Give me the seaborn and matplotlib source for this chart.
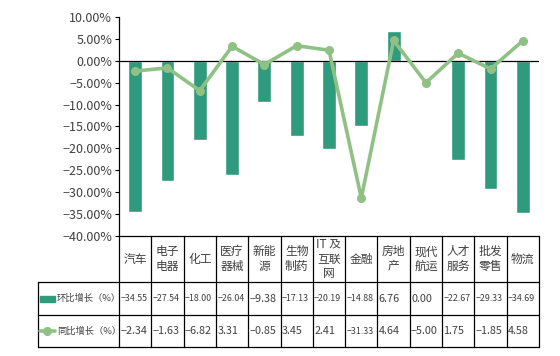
import matplotlib
matplotlib.use("Agg")
import matplotlib.pyplot as plt
import seaborn as sns
import numpy as np
import pandas as pd
from matplotlib.ticker import FuncFormatter
from matplotlib.patches import Rectangle
from matplotlib.lines import Line2D

# data
categories = ["汽车", "电子\n电器", "化工", "医疗\n器械", "新能\n源", "生物\n制药", "IT 及\n互联\n网",
              "金融", "房地\n产", "现代\n航运", "人才\n服务", "批发\n零售", "物流"]
mom_growth = [-34.55, -27.54, -18.00, -26.04, -9.38, -17.13, -20.19, -14.88, 6.76, 0.00, -22.67, -29.33, -34.69]
yoy_growth = [-2.34, -1.63, -6.82, 3.31, -0.85, 3.45, 2.41, -31.33, 4.64, -5.00, 1.75, -1.85, 4.58]
row_labels = ["环比增长（%）", "同比增长（%）"]
y_ticks = [10, 5, 0, -5, -10, -15, -20, -25, -30, -35, -40]

bar_color = "#2f9a7c"
line_color = "#8fc184"
text_color = "#404040"

sns.set_theme(style="white")
plt.rcParams['font.family'] = ['Noto Sans CJK SC', 'DejaVu Sans']
plt.rcParams['axes.unicode_minus'] = True

df = pd.DataFrame({"cat": categories, "mom": mom_growth, "yoy": yoy_growth})

W, H = 560, 356
fig = plt.figure(figsize=(W / 100, H / 100), dpi=100)
# main plot area (pixel layout)
x0, x1 = 119, 539
ytop, ybot = 17, 236
ax = fig.add_axes([x0 / W, 1 - ybot / H, (x1 - x0) / W, (ybot - ytop) / H])

sns.barplot(data=df, x="cat", y="mom", color=bar_color, width=0.43, ax=ax, saturation=1)
ax.plot(np.arange(len(categories)), df["yoy"], color=line_color, lw=2.6,
        marker="o", markersize=5.5, zorder=5)
ax.set_xlim(-0.5, len(categories) - 0.5)
ax.set_ylim(-40, 10)
ax.set_yticks(y_ticks)
ax.yaxis.set_major_formatter(FuncFormatter(lambda v, p: f"{v:.2f}%".replace("-", "\u2212")))
ax.tick_params(axis="y", left=True, length=3, width=0.8, color="black",
               labelsize=9, labelcolor=text_color, pad=2)
ax.set_xticks([])
ax.set_xlabel("")
ax.set_ylabel("")
ax.axhline(0, color="black", lw=0.9, zorder=4)
for s in ["top", "right", "bottom"]:
    ax.spines[s].set_visible(False)
ax.spines["left"].set_color("black")
ax.spines["left"].set_linewidth(0.9)

# data table under the chart
tx0, ty1 = 38, 347
tax = fig.add_axes([tx0 / W, 1 - ty1 / H, (x1 - tx0) / W, (ty1 - ybot) / H])
slot = (x1 - x0) / len(categories)
lab_w = (x0 - tx0) / slot
tax.set_xlim(-0.5 - lab_w, len(categories) - 0.5)
tax.set_ylim(ty1, ybot)
tax.axis("off")
rows_y = [236, 282, 315, 347]
lkw = dict(color="black", lw=0.9, clip_on=False)
n = len(categories)
# horizontal lines
tax.plot([-0.5, n - 0.5], [rows_y[0]] * 2, **lkw)
for yy in rows_y[1:]:
    tax.plot([-0.5 - lab_w, n - 0.5], [yy] * 2, **lkw)
# vertical lines
for i in range(n + 1):
    tax.plot([i - 0.5] * 2, [rows_y[0], rows_y[3]], **lkw)
tax.plot([-0.5 - lab_w] * 2, [rows_y[1], rows_y[3]], **lkw)

for i, c in enumerate(categories):
    tax.text(i, (rows_y[0] + rows_y[1]) / 2, c, ha="center", va="center",
             fontsize=8.5, color=text_color, linespacing=1.15)


def fmt(v):
    return f"{v:.2f}".replace("-", "\u2212")


for r, vals in enumerate([mom_growth, yoy_growth]):
    yc = (rows_y[r + 1] + rows_y[r + 2]) / 2
    for i, v in enumerate(vals):
        s = fmt(v)
        narrow = len(s) > 5
        tax.text(i - 0.5 + 0.04, yc, s, ha="left", va="center",
                 fontsize=6.4 if narrow else 7.8, color=text_color)
    tax.text(-0.5 - lab_w + 0.58, yc, row_labels[r], ha="left", va="center",
             fontsize=6.7, color=text_color)

# legend keys in row labels
kx = -0.5 - lab_w + 0.06
yc1 = (rows_y[1] + rows_y[2]) / 2
tax.add_patch(Rectangle((kx, yc1 - 3), 0.46, 6, color=bar_color, clip_on=False))
yc2 = (rows_y[2] + rows_y[3]) / 2
tax.add_line(Line2D([kx, kx + 0.46], [yc2, yc2], color=line_color, lw=2.6, clip_on=False))
tax.plot([kx + 0.23], [yc2], marker="o", color=line_color, markersize=5.5, clip_on=False)

fig.savefig("out.png", dpi=100, facecolor="white")
